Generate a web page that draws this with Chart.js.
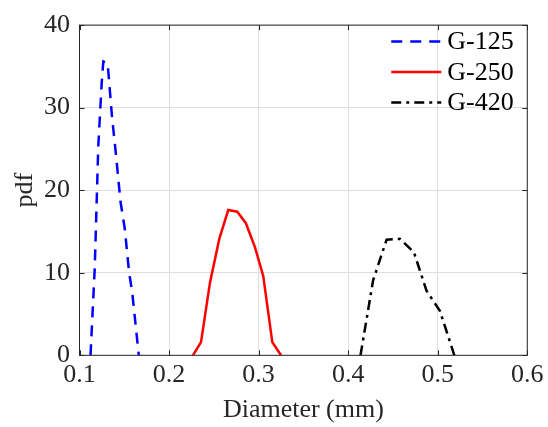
<!DOCTYPE html>
<html>
<head>
<meta charset="utf-8">
<script src="https://cdn.jsdelivr.net/npm/chart.js@4"></script>
<style>
  body { margin: 0; background: #fff; }
  #wrap { width: 548px; height: 427px; }
</style>
</head>
<body>
<div id="wrap"><canvas id="pdfChart" width="548" height="427"></canvas></div>
<script>
// particle size distributions (diameter in mm, pdf)
const seriesNames = ['G-125', 'G-250', 'G-420'];

const g125Diameter = [0.1123, 0.1170, 0.1210, 0.1248, 0.1266, 0.1314, 0.1362, 0.1410, 0.1458, 0.1506, 0.1554, 0.1588, 0.1662];
const g125Pdf      = [0,      10.5,   25.4,   33.0,   35.6,   35.4,   29.0,   24.0,   18.6,   15.3,   10.0,   7.7,    0];

const g250Diameter = [0.2267, 0.2357, 0.2457, 0.2561, 0.2661, 0.2762, 0.2858, 0.2959, 0.3052, 0.3153, 0.3250];
const g250Pdf      = [0,      1.6,    8.8,    14.1,   17.6,   17.4,   16.0,   13.1,   9.6,    1.6,    0];

const g420Diameter = [0.4138, 0.4279, 0.4429, 0.4578, 0.4734, 0.4876, 0.5024, 0.5186];
const g420Pdf      = [0,      9.1,    14.0,   14.1,   12.5,   7.8,    5.4,    0];

// axis ticks
const xTicks = [0.1, 0.2, 0.3, 0.4, 0.5, 0.6];
const xTickLabels = ['0.1', '0.2', '0.3', '0.4', '0.5', '0.6'];
const yTicks = [0, 10, 20, 30, 40];
const yTickLabels = ['0', '10', '20', '30', '40'];

const serif = '"Liberation Serif", "Times New Roman", serif';
const fontSize = 26;
const axisColor = '#262626';
const gridColor = '#dedede';

function toPoints(xs, ys) {
  return xs.map(function (x, i) { return { x: x, y: ys[i] }; });
}

// box round the plot with inward ticks on all four sides
const axesBox = {
  id: 'axesBox',
  afterDatasetsDraw(chart) {
    const { ctx, chartArea: a, scales } = chart;
    const len = 5;
    ctx.save();
    ctx.strokeStyle = axisColor;
    ctx.lineWidth = 1;
    ctx.strokeRect(a.left, a.top, a.width, a.height);
    ctx.beginPath();
    xTicks.forEach(function (v) {
      const px = Math.round(scales.x.getPixelForValue(v)) + 0.5;
      ctx.moveTo(px, a.bottom); ctx.lineTo(px, a.bottom - len);
      ctx.moveTo(px, a.top); ctx.lineTo(px, a.top + len);
    });
    yTicks.forEach(function (v) {
      const py = Math.round(scales.y.getPixelForValue(v)) + 0.5;
      ctx.moveTo(a.left, py); ctx.lineTo(a.left + len, py);
      ctx.moveTo(a.right, py); ctx.lineTo(a.right - len, py);
    });
    ctx.stroke();
    ctx.restore();
  }
};

// legend in the top right corner, no frame
const cornerLegend = {
  id: 'cornerLegend',
  afterDraw(chart) {
    const { ctx, chartArea: a } = chart;
    const x0 = a.right - 136;
    ctx.save();
    chart.data.datasets.forEach(function (ds, i) {
      const y = a.top + 16.5 + i * 30.5;
      ctx.strokeStyle = ds.borderColor;
      ctx.lineWidth = ds.borderWidth;
      ctx.setLineDash(ds.borderDash || []);
      ctx.beginPath();
      ctx.moveTo(x0, y);
      ctx.lineTo(x0 + 50, y);
      ctx.stroke();
      ctx.setLineDash([]);
      ctx.fillStyle = '#000';
      ctx.font = fontSize + 'px ' + serif;
      ctx.textAlign = 'left';
      ctx.textBaseline = 'middle';
      ctx.fillText(ds.label, x0 + 56, y + 1);
    });
    ctx.restore();
  }
};

const ctx = document.getElementById('pdfChart').getContext('2d');
new Chart(ctx, {
  type: 'line',
  data: {
    datasets: [
      {
        label: seriesNames[0],
        data: toPoints(g125Diameter, g125Pdf),
        borderColor: '#0000ff',
        borderWidth: 2.5,
        borderDash: [11, 8]
      },
      {
        label: seriesNames[1],
        data: toPoints(g250Diameter, g250Pdf),
        borderColor: '#ff0000',
        borderWidth: 2.5
      },
      {
        label: seriesNames[2],
        data: toPoints(g420Diameter, g420Pdf),
        borderColor: '#000000',
        borderWidth: 2.5,
        borderDash: [10, 5, 3, 5]
      }
    ]
  },
  options: {
    responsive: false,
    animation: false,
    devicePixelRatio: 1,
    layout: { padding: { left: 0, right: 20.7, top: 19.5, bottom: 0 } },
    elements: {
      point: { radius: 0 },
      line: { tension: 0, fill: false, borderCapStyle: 'butt', borderJoinStyle: 'miter' }
    },
    plugins: {
      legend: { display: false },
      tooltip: { enabled: false }
    },
    scales: {
      x: {
        type: 'linear',
        min: 0.1,
        max: 0.6,
        afterBuildTicks: function (scale) {
          scale.ticks = xTicks.map(function (v) { return { value: v }; });
        },
        afterFit: function (scale) { scale.height = 71.7; },
        grid: { color: gridColor, lineWidth: 1, drawTicks: false },
        border: { display: false },
        ticks: {
          padding: 4.5,
          color: axisColor,
          font: { family: serif, size: fontSize },
          maxRotation: 0,
          callback: function (v, i) { return xTickLabels[i]; }
        },
        title: {
          display: true,
          text: 'Diameter (mm)',
          color: axisColor,
          font: { family: serif, size: fontSize },
          padding: { top: 0, bottom: 1.5 }
        }
      },
      y: {
        type: 'linear',
        min: 0,
        max: 40,
        afterBuildTicks: function (scale) {
          scale.ticks = yTicks.map(function (v) { return { value: v }; });
        },
        afterFit: function (scale) { scale.width = 79.5; },
        grid: { color: gridColor, lineWidth: 1, drawTicks: false },
        border: { display: false },
        ticks: {
          padding: 9.5,
          color: axisColor,
          font: { family: serif, size: fontSize },
          callback: function (v, i) { return yTickLabels[i]; }
        },
        title: {
          display: true,
          text: 'pdf',
          color: axisColor,
          font: { family: serif, size: fontSize },
          padding: { top: 10, bottom: 0 }
        }
      }
    }
  },
  plugins: [axesBox, cornerLegend]
});
</script>
</body>
</html>
